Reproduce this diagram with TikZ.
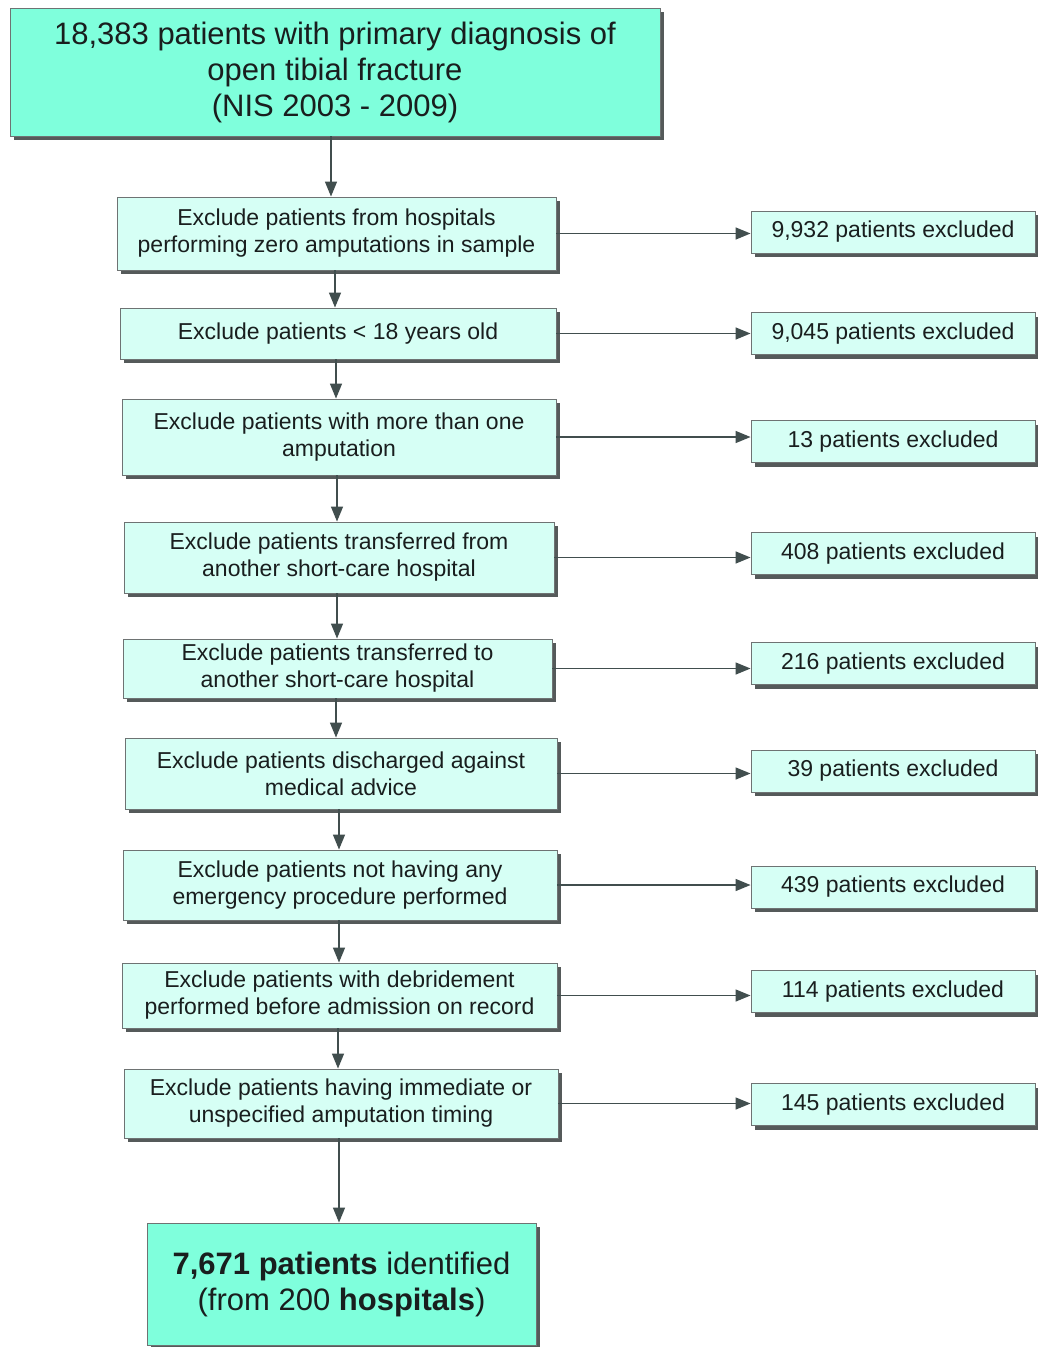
\documentclass[tikz,border=0pt]{standalone}
\usepackage{fontspec}
\setmainfont{Liberation Sans}
\usetikzlibrary{arrows.meta,shadows}
\definecolor{topfill}{RGB}{127,255,220}
\definecolor{stepfill}{RGB}{214,255,245}
\definecolor{edgegray}{RGB}{110,115,115}
\definecolor{shadowgray}{RGB}{85,90,90}
\definecolor{arrowgray}{RGB}{65,78,78}
\definecolor{textdark}{RGB}{25,30,30}
\tikzset{
  boxbase/.style={rectangle, draw=edgegray, line width=0.9pt, text=textdark, align=center, inner sep=0pt,
    drop shadow={shadow xshift=4pt, shadow yshift=-4pt, fill=shadowgray, opacity=1}},
  bigbox/.style={boxbase, fill=topfill, font=\fontsize{31}{36}\selectfont},
  stepbox/.style={boxbase, fill=stepfill, font=\fontsize{23}{27}\selectfont},
  exclbox/.style={stepbox, minimum width=284pt, minimum height=42pt},
  arr/.style={draw=arrowgray, line width=1.4pt, -{Triangle[length=15pt,width=12pt]}}
}
\begin{document}
\begin{tikzpicture}[x=1pt,y=-1pt]
\useasboundingbox (0,0) rectangle (1037,1347);
\fill[white] (0,0) rectangle (1037,1347);

\node[bigbox, minimum width=650pt, minimum height=128pt] (top) at (335,72)
  {18,383 patients with primary diagnosis of\\open tibial fracture\\(NIS 2003 - 2009)};

\node[stepbox, minimum width=439pt, minimum height=73pt] (b1) at (336.5,233.5)
  {Exclude patients from hospitals\\performing zero amputations in sample};
\node[stepbox, minimum width=436pt, minimum height=51pt] (b2) at (338,333.5)
  {Exclude patients < 18 years old};
\node[stepbox, minimum width=434pt, minimum height=76pt] (b3) at (339,437)
  {Exclude patients with more than one\\amputation};
\node[stepbox, minimum width=430pt, minimum height=71pt] (b4) at (339,557.5)
  {Exclude patients transferred from\\another short-care hospital};
\node[stepbox, minimum width=429pt, minimum height=59pt] (b5) at (337.5,668.5)
  {Exclude patients transferred to\\another short-care hospital};
\node[stepbox, minimum width=432pt, minimum height=71pt] (b6) at (341,773.5)
  {Exclude patients discharged against\\medical advice};
\node[stepbox, minimum width=434pt, minimum height=70pt] (b7) at (340,885)
  {Exclude patients not having any\\emergency procedure performed};
\node[stepbox, minimum width=435pt, minimum height=65pt] (b8) at (339.5,995.5)
  {Exclude patients with debridement\\performed before admission on record};
\node[stepbox, minimum width=434pt, minimum height=69pt] (b9) at (341,1103.5)
  {Exclude patients having immediate or\\unspecified amputation timing};

\node[bigbox, minimum width=389pt, minimum height=122pt] (bot) at (341.5,1284)
  {\textbf{7,671 patients} identified\\(from 200 \textbf{hospitals})};

\node[exclbox] (r1) at (893,232) {9,932 patients excluded};
\node[exclbox] (r2) at (893,333.5) {9,045 patients excluded};
\node[exclbox] (r3) at (893,441.5) {13 patients excluded};
\node[exclbox] (r4) at (893,553.5) {408 patients excluded};
\node[exclbox] (r5) at (893,663.5) {216 patients excluded};
\node[exclbox] (r6) at (893,771) {39 patients excluded};
\node[exclbox] (r7) at (893,887) {439 patients excluded};
\node[exclbox] (r8) at (893,991.5) {114 patients excluded};
\node[exclbox] (r9) at (893,1104.5) {145 patients excluded};

% vertical flow
\draw[arr] ([xshift=-4pt]top.south) -- ([xshift=-4pt]top.south |- b1.north);
\draw[arr] ([xshift=-1.5pt]b1.south) -- ([xshift=-1.5pt]b1.south |- b2.north);
\draw[arr] ([xshift=-2pt]b2.south) -- ([xshift=-2pt]b2.south |- b3.north);
\draw[arr] ([xshift=-2pt]b3.south) -- ([xshift=-2pt]b3.south |- b4.north);
\draw[arr] ([xshift=-2pt]b4.south) -- ([xshift=-2pt]b4.south |- b5.north);
\draw[arr] ([xshift=-1.5pt]b5.south) -- ([xshift=-1.5pt]b5.south |- b6.north);
\draw[arr] ([xshift=-2pt]b6.south) -- ([xshift=-2pt]b6.south |- b7.north);
\draw[arr] ([xshift=-1pt]b7.south) -- ([xshift=-1pt]b7.south |- b8.north);
\draw[arr] ([xshift=-1.5pt]b8.south) -- ([xshift=-1.5pt]b8.south |- b9.north);
\draw[arr] ([xshift=-2pt]b9.south) -- ([xshift=-2pt]b9.south |- bot.north);

% exclusions
\foreach \i in {1,...,9} {
  \draw[arr] (b\i.east) -- (b\i.east -| r\i.west);
}
\end{tikzpicture}
\end{document}
